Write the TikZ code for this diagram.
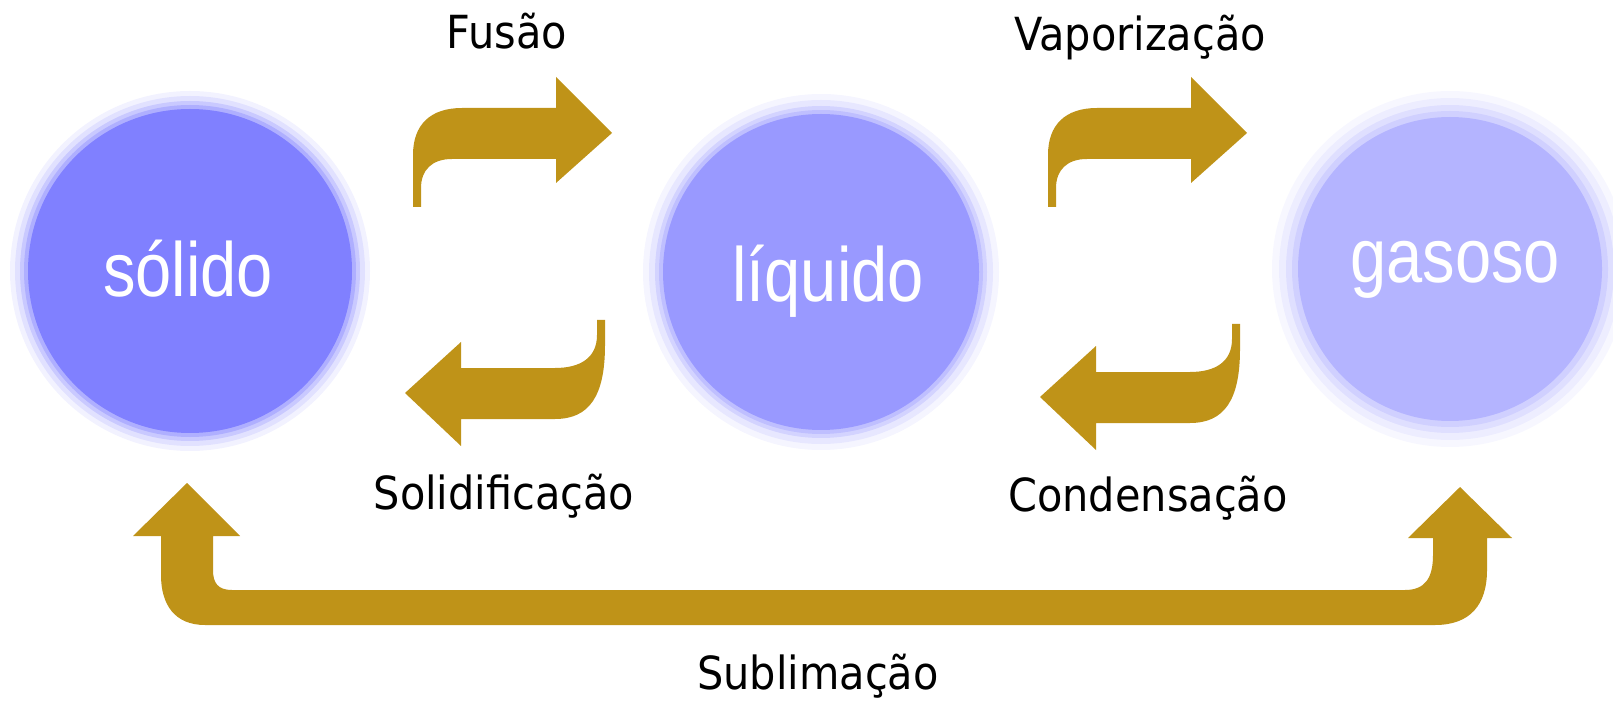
\documentclass[tikz,border=0pt]{standalone}
\usepackage{fontspec}
\setmainfont{DejaVu Sans}
\newfontfamily\circfont{Liberation Sans}
\definecolor{solcol}{RGB}{128,128,255}
\definecolor{liqcol}{RGB}{153,153,255}
\definecolor{gascol}{RGB}{180,180,255}
\definecolor{arrowgold}{RGB}{191,147,24}
\tikzset{
  phase/.style={text=white, anchor=base, font=\circfont\fontsize{37}{44}\selectfont},
  change/.style={text=black, anchor=base, font=\fontsize{23.6}{28}\selectfont},
}

\begin{document}
\begin{tikzpicture}[scale=0.2]
      \tikzstyle{every node}+=[inner sep=0pt]
      \useasboundingbox (0,0) rectangle (161.3,-70.7);
      % solido
      \fill [solcol, opacity=0.1] (19,-27.1) circle (18.0);
      \fill [solcol, opacity=0.15] (19,-27.1) circle (17.5);
      \fill [solcol, opacity=0.25] (19,-27.1) circle (17.0);
      \fill [solcol, opacity=0.35] (19,-27.1) circle (16.6);
      \fill [solcol] (19,-27.1) circle (16.2);
      \draw (18.8,-29.7) node (solido) [phase] {\scalebox{1}[1.18]{sólido}};
      % liquido
      \fill [liqcol, opacity=0.1] (82.1,-27.2) circle (17.8);
      \fill [liqcol, opacity=0.15] (82.1,-27.2) circle (17.2);
      \fill [liqcol, opacity=0.25] (82.1,-27.2) circle (16.6);
      \fill [liqcol, opacity=0.35] (82.1,-27.2) circle (16.2);
      \fill [liqcol] (82.1,-27.2) circle (15.8);
      \draw (82.8,-30.2) node (liquido) [phase] {\scalebox{1}[1.18]{líquido}};
      % gasoso
      \fill [gascol, opacity=0.1] (145,-26.9) circle (17.8);
      \fill [gascol, opacity=0.15] (145,-26.9) circle (17.1);
      \fill [gascol, opacity=0.25] (145,-26.9) circle (16.4);
      \fill [gascol, opacity=0.35] (145,-26.9) circle (15.8);
      \fill [gascol] (145,-26.9) circle (15.2);
      \draw (145.5,-28.3) node (gasoso) [phase] {\scalebox{1}[1.18]{gasoso}};
      % fusao
      \fill [arrowgold] (61.2,-13.3) -- (55.6,-7.7) -- (55.6,-10.8) -- (46.2,-10.8) .. controls (43.0,-10.8) and (41.3,-12.5) .. (41.3,-15.5) -- (41.3,-20.7) -- (42.1,-20.7) -- (42.1,-18.8) .. controls (42.1,-17.0) and (43.2,-15.9) .. (45.2,-15.9) -- (55.6,-15.9) -- (55.6,-18.3) -- cycle;
      \draw (50.7,-4.9) node (fusao) [change] {\scalebox{1}[1.1]{Fusão}};
      % vaporizacao
      \fill [arrowgold] (124.7,-13.3) -- (119.1,-7.7) -- (119.1,-10.8) -- (109.7,-10.8) .. controls (106.5,-10.8) and (104.8,-12.5) .. (104.8,-15.5) -- (104.8,-20.7) -- (105.6,-20.7) -- (105.6,-18.8) .. controls (105.6,-17.0) and (106.7,-15.9) .. (108.7,-15.9) -- (119.1,-15.9) -- (119.1,-18.3) -- cycle;
      \draw (114.0,-5.1) node (vapor) [change] {\scalebox{1}[1.1]{Vaporização}};
      % solidificacao
      \fill [arrowgold] (40.5,-39.3) -- (46.1,-34.2) -- (46.1,-36.8) -- (55.5,-36.8) .. controls (58.0,-36.8) and (59.7,-35.8) .. (59.7,-33.5) -- (59.7,-32.0) -- (60.5,-32.0) -- (60.5,-34.5) .. controls (60.5,-39.5) and (59.0,-41.9) .. (55.5,-41.9) -- (46.1,-41.9) -- (46.1,-44.6) -- cycle;
      \draw (50.4,-50.9) node (solidif) [change] {\scalebox{1}[1.1]{Solidificação}};
      % condensacao
      \fill [arrowgold] (104.0,-39.7) -- (109.6,-34.6) -- (109.6,-37.2) -- (119.0,-37.2) .. controls (121.5,-37.2) and (123.2,-36.2) .. (123.2,-33.9) -- (123.2,-32.4) -- (124.0,-32.4) -- (124.0,-34.9) .. controls (124.0,-39.9) and (122.5,-42.3) .. (119.0,-42.3) -- (109.6,-42.3) -- (109.6,-45.0) -- cycle;
      \draw (114.8,-51.1) node (conden) [change] {\scalebox{1}[1.1]{Condensação}};
      % sublimacao
      \fill [arrowgold] (18.7,-48.3) -- (24.0,-53.6) -- (21.3,-53.6) -- (21.3,-57.0) .. controls (21.3,-58.3) and (21.8,-59.0) .. (23.2,-59.0) -- (140.5,-59.0) .. controls (142.5,-59.0) and (143.3,-57.8) .. (143.3,-55.5) -- (143.3,-53.8) -- (140.8,-53.8) -- (146.0,-48.7) -- (151.2,-53.8) -- (148.7,-53.8) -- (148.7,-57.0) .. controls (148.7,-60.5) and (147.0,-62.5) .. (143.5,-62.5) -- (20.5,-62.5) .. controls (17.5,-62.5) and (16.1,-60.5) .. (16.1,-57.5) -- (16.1,-53.6) -- (13.3,-53.6) -- cycle;
      \draw (81.8,-68.9) node (sublim) [change] {\scalebox{1}[1.1]{Sublimação}};
\end{tikzpicture}
\end{document}
